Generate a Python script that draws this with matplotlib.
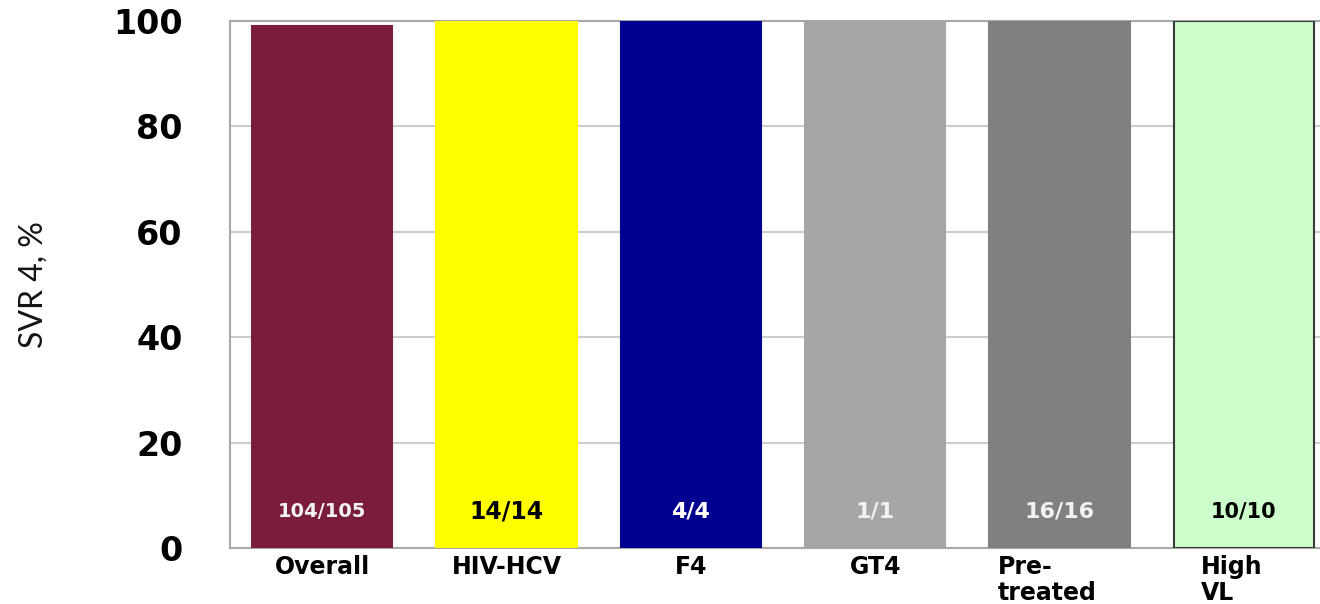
import matplotlib
matplotlib.use("Agg")
import matplotlib.pyplot as plt

categories = ["Overall", "HIV-HCV", "F4", "GT4", "Pre-\ntreated", "High\nVL"]
responders = [104, 14, 4, 1, 16, 10]
totals = [105, 14, 4, 1, 16, 10]
svr_pct = [r / t * 100 for r, t in zip(responders, totals)]
bar_colors = ["#7B1C3B", "#FFFF00", "#000090", "#A6A6A6", "#808080", "#CCFFCC"]
bar_edges = ["#7B1C3B", "#FFFF00", "#000090", "#A6A6A6", "#808080", "#3A3A3A"]
count_colors = ["#F2F2F2", "#000000", "#FFFFFF", "#F2F2F2", "#F2F2F2", "#000000"]
count_sizes = [14, 17, 16, 16, 16, 15]
yticks = [0, 20, 40, 60, 80, 100]

W, H = 1320, 604
fig = plt.figure(figsize=(W / 100, H / 100), dpi=100)
ax = fig.add_axes([230 / W, 56 / H, 1106 / W, 527 / H])

x = list(range(len(categories)))
ax.bar(x, svr_pct, width=0.76, color=bar_colors, edgecolor=bar_edges,
       linewidth=1.5, zorder=3)

for xi, r, t, c, s in zip(x, responders, totals, count_colors, count_sizes):
    ax.text(xi, 7, f"{r}/{t}", ha="center", va="center", color=c,
            fontsize=s, fontweight="bold", family="DejaVu Sans", zorder=4)

ax.set_xlim(-0.5, len(categories) - 0.5)
ax.set_ylim(0, 100)
ax.set_yticks(yticks)
ax.set_yticklabels([str(v) for v in yticks], fontsize=24, fontweight="bold")
ax.set_xticks(x)
ax.set_xticklabels([])
ax.tick_params(axis="y", length=0, pad=34)
ax.tick_params(axis="x", length=0)

# category names under the bars; two-line names are left-aligned blocks
for xi, name in zip(x, categories):
    dx = -9 if "\n" in name else 0
    ax.annotate(name, xy=(xi, 0), xycoords=("data", "axes fraction"),
                xytext=(dx, -5), textcoords="offset points",
                ha="center", va="top", multialignment="left",
                fontsize=17, fontweight="bold", linespacing=1.1)

ax.grid(axis="y", color="#CDCDCD", linewidth=1.5, zorder=0)
for side in ["left", "bottom", "top", "right"]:
    ax.spines[side].set_color("#A8A8A8")
    ax.spines[side].set_linewidth(1.5)

fig.text(34 / W, 1 - 285 / H, "SVR 4, %", rotation=90, ha="center",
         va="center", fontsize=23, family="Lato", color="#141414")

fig.savefig("out.png", dpi=100)
